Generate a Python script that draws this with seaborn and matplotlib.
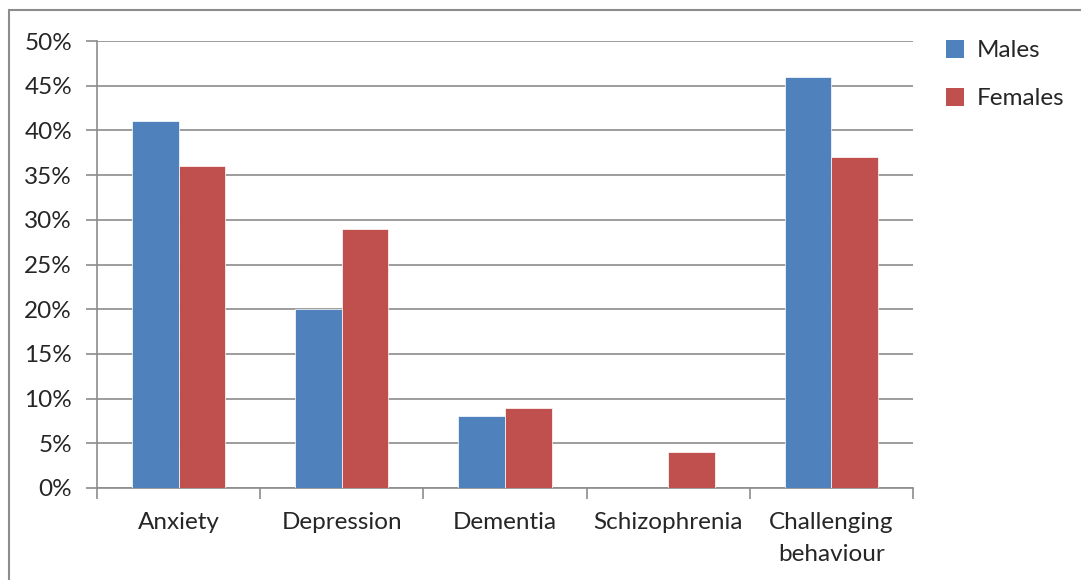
import pandas as pd
import numpy as np
import seaborn as sns
import matplotlib.pyplot as plt
from matplotlib.patches import Rectangle
from matplotlib.ticker import PercentFormatter

# data
categories = ["Anxiety", "Depression", "Dementia", "Schizophrenia", "Challenging\nbehaviour"]
males = [41, 20, 8, 0, 46]
females = [36, 29, 9, 4, 37]

df = pd.DataFrame({
    "category": categories * 2,
    "value": males + females,
    "sex": ["Males"] * len(categories) + ["Females"] * len(categories),
})

sns.set_style("white")
plt.rcParams["font.family"] = ["Lato", "DejaVu Sans"]

fig = plt.figure(figsize=(10.81, 5.80), dpi=100)
ax = fig.add_axes([97 / 1081, 1 - 488 / 580, 816 / 1081, 447 / 580])

sns.barplot(data=df, x="category", y="value", hue="sex",
            palette=["#4F81BD", "#C0504D"], width=0.57, gap=0,
            edgecolor="white", linewidth=0.5, saturation=1, ax=ax, zorder=3)

ax.set_ylim(0, 50)
ax.set_xlim(-0.5, len(categories) - 0.5)
ax.set_yticks(np.arange(0, 51, 5))
ax.yaxis.set_major_formatter(PercentFormatter(decimals=0))
ax.grid(axis="y", color="#8c8c8c", linewidth=1.2, zorder=0)
ax.set_axisbelow(True)
ax.set_xlabel("")
ax.set_ylabel("")

# category boundary ticks on x axis
ax.set_xticks(np.arange(len(categories)))
ax.set_xticklabels(categories, linespacing=1.65)
ax.set_xticks(np.arange(-0.5, len(categories), 1), minor=True)
ax.tick_params(axis="x", which="major", length=0, pad=17, labelsize=17.5)
ax.tick_params(axis="x", which="minor", length=8, width=1.2, color="#8c8c8c", direction="out")
ax.tick_params(axis="y", length=8, width=1.2, color="#8c8c8c", direction="out", labelsize=17.5, pad=10)
ax.tick_params(bottom=True, left=True, which="both")

for side in ["top", "right"]:
    ax.spines[side].set_visible(False)
for side in ["left", "bottom"]:
    ax.spines[side].set_color("#8c8c8c")
    ax.spines[side].set_linewidth(1.2)

leg = ax.legend(loc="upper left", bbox_to_anchor=(924 / 1081, 1 - 18 / 580),
                bbox_transform=fig.transFigure, frameon=False, fontsize=17.5,
                handlelength=0.75, handleheight=0.75, handletextpad=0.5, labelspacing=1.1)
for h in leg.legend_handles:
    h.set_edgecolor("none")

# outer chart border
fig.patches.append(Rectangle((9 / 1081, -0.05), 1.1, 1 - 10 / 580 + 0.05,
                             transform=fig.transFigure, fill=False,
                             edgecolor="#8c8c8c", linewidth=1.5))

fig.savefig("out.png", dpi=100)
